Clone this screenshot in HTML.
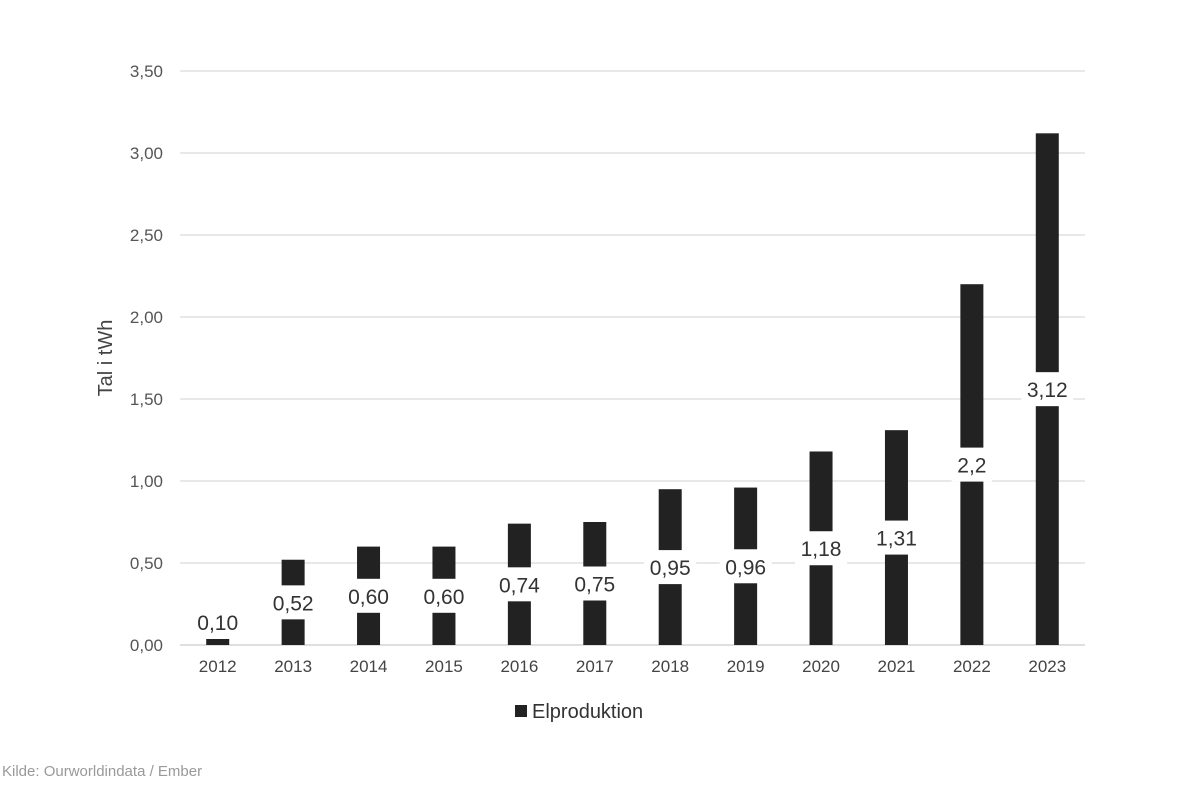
<!DOCTYPE html>
<html><head><meta charset="utf-8"><style>
body{margin:0;background:#fff}
svg text{font-family:"Liberation Sans",sans-serif}
</style></head><body>
<svg id="c" width="1200" height="800">
<g id="grid"></g>
<g id="bars"></g>
<g id="labels"></g>
<g id="yt"></g>
<g id="xt"></g>
<text x="112" y="358" transform="rotate(-90 112 358)" text-anchor="middle" font-size="20" fill="#444">Tal i tWh</text>
<rect x="515" y="705" width="12" height="12" fill="#222"/>
<text x="532" y="718" font-size="20" fill="#333">Elproduktion</text>
<text x="2" y="776" font-size="15" fill="#999">Kilde: Ourworldindata / Ember</text>
</svg>
<script>
const categories=["2012","2013","2014","2015","2016","2017","2018","2019","2020","2021","2022","2023"];
const values=[0.10,0.52,0.60,0.60,0.74,0.75,0.95,0.96,1.18,1.31,2.2,3.12];
const valueLabels=["0,10","0,52","0,60","0,60","0,74","0,75","0,95","0,96","1,18","1,31","2,2","3,12"];
const yTicks=[0,0.5,1,1.5,2,2.5,3,3.5];
const yTickLabels=["0,00","0,50","1,00","1,50","2,00","2,50","3,00","3,50"];
const NS="http://www.w3.org/2000/svg";
const x0=180,x1=1085,y0=645,yMax=3.5,yTop=71;
const bw=(x1-x0)/categories.length;
const y=v=>y0-(v/yMax)*(y0-yTop);
const xc=i=>x0+bw*(i+0.5);
function mk(t,a,p){const e=document.createElementNS(NS,t);for(const k in a)e.setAttribute(k,a[k]);p.appendChild(e);return e;}
const G=document.getElementById('grid'),B=document.getElementById('bars'),L=document.getElementById('labels'),YT=document.getElementById('yt'),XT=document.getElementById('xt');
yTicks.forEach((t,i)=>{
 const l=mk('line',{x1:x0,x2:x1,y1:y(t),y2:y(t),stroke:t===0?'#ccc':'#d9d9d9','stroke-width':1.3},G);
 
 
 const tx=mk('text',{x:163,y:y(t)+6,'text-anchor':'end','font-size':17,fill:'#555'},YT);
 tx.textContent=yTickLabels[i];
 
 
});
categories.forEach((c,i)=>{
 const r=mk('rect',{x:xc(i)-11.5,y:y(values[i]),width:23,height:y0-y(values[i]),fill:'#222'},B);
 
 
 const tx=mk('text',{x:xc(i),y:672,'text-anchor':'middle','font-size':17,fill:'#444'},XT);
 tx.textContent=c;
 
 
 const cy=Math.min((y(values[i])+y0)/2,y0-23);
 const w=valueLabels[i].length*11.5+6;
 const bg=mk('rect',{x:xc(i)-w/2,y:cy-17,width:w,height:34,fill:'#fff'},L);
 
 
 const lt=mk('text',{x:xc(i),y:cy+8,'text-anchor':'middle','font-size':21,fill:'#333'},L);
 lt.textContent=valueLabels[i];
 
 
});
</script>
</body></html>
